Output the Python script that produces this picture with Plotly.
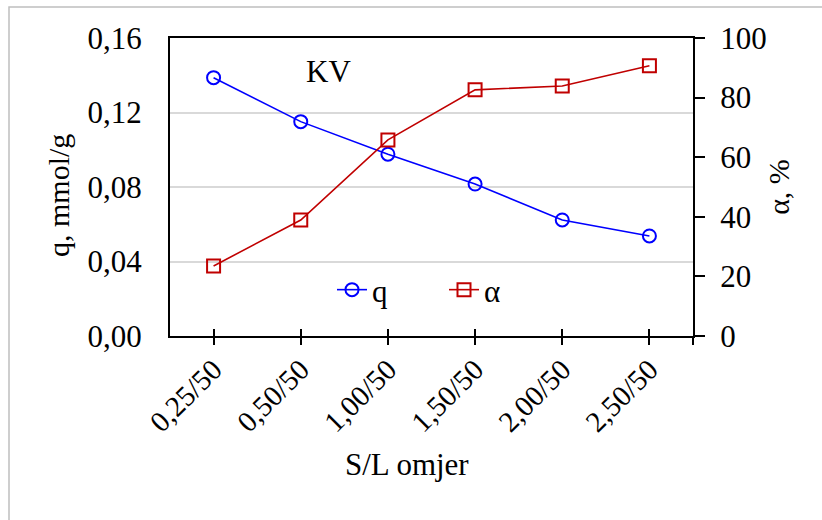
import plotly.graph_objects as go

categories = ["0,25/50", "0,50/50", "1,00/50", "1,50/50", "2,00/50", "2,50/50"]
q_values = [0.1387, 0.1151, 0.0976, 0.0816, 0.0623, 0.0537]
alpha_values = [23.5, 38.9, 65.8, 82.6, 83.9, 90.7]
q_ticks = [0, 0.04, 0.08, 0.12, 0.16]
alpha_ticks = [0, 20, 40, 60, 80, 100]

FONT = "'Liberation Serif', 'Times New Roman', serif"
W, H = 822, 520
L, R, T, B = 170, 129, 38, 184
pw, ph = W - L - R, H - T - B


def px_x(p):
    return (p - L) / pw


def px_y(p):
    return (T + ph - p) / ph


x = list(range(len(categories)))
tickvals = x + [len(categories) - 0.5]
ticktext = categories + [""]

fig = go.Figure()
fig.add_trace(go.Scatter(
    x=x, y=q_values, name="q", mode="lines+markers",
    line=dict(color="#0000FF", width=1.6),
    marker=dict(symbol="circle-open", size=13, color="#0000FF", line=dict(width=2)),
    yaxis="y", xaxis="x"))
fig.add_trace(go.Scatter(
    x=x, y=alpha_values, name="α", mode="lines+markers",
    line=dict(color="#C00000", width=1.6),
    marker=dict(symbol="square-open", size=13, color="#C00000", line=dict(width=2)),
    yaxis="y2", xaxis="x"))
# helper trace to display inner half of crossing ticks
fig.add_trace(go.Scatter(
    x=x, y=q_values, mode="markers", marker=dict(opacity=0),
    showlegend=False, hoverinfo="skip", xaxis="x3", yaxis="y"))

xrange = [-0.5, len(categories) - 0.5]
fig.update_layout(
    width=W, height=H,
    margin=dict(l=L, r=R, t=T, b=B, autoexpand=False),
    paper_bgcolor="white", plot_bgcolor="white",
    separators=", ",
    font=dict(family=FONT, size=31, color="black"),
    xaxis=dict(
        range=xrange, tickmode="array", tickvals=tickvals, ticktext=ticktext,
        tickangle=-45, ticks="outside", ticklen=7, tickwidth=1.5, tickcolor="black",
        showline=True, linecolor="black", linewidth=2, mirror=True,
        showgrid=False, zeroline=False, automargin=False,
        tickfont=dict(size=29, family=FONT), ticklabelstandoff=-4,
    ),
    xaxis3=dict(
        range=xrange, overlaying="x", tickmode="array", tickvals=tickvals,
        ticks="inside", ticklen=7, tickwidth=1.5, tickcolor="black",
        showticklabels=False, showline=False, showgrid=False, zeroline=False,
        automargin=False,
    ),
    yaxis=dict(
        range=[0, 0.16], tickmode="array", tickvals=q_ticks, tickformat=".2f",
        ticks="", showline=True, linecolor="black", linewidth=2,
        showgrid=True, gridcolor="#d9d9d9", gridwidth=2, zeroline=False,
        automargin=False,
        tickfont=dict(size=31, family=FONT), ticklabelstandoff=20,
    ),
    yaxis2=dict(
        range=[0, 100], tickmode="array", tickvals=alpha_ticks,
        overlaying="y", side="right", anchor="x",
        ticks="outside", ticklen=10, tickwidth=1.5, tickcolor="black",
        showline=True, linecolor="black", linewidth=2,
        showgrid=False, zeroline=False, automargin=False,
        tickfont=dict(size=31, family=FONT), ticklabelstandoff=9,
        title=dict(text="α, %", font=dict(size=30, family=FONT), standoff=2),
    ),
    legend=dict(
        orientation="h", x=px_x(332), y=px_y(290),
        xanchor="left", yanchor="middle", bgcolor="rgba(0,0,0,0)",
        font=dict(size=31, family=FONT), entrywidth=67, entrywidthmode="pixels",
    ),
    showlegend=True,
)

fig.add_annotation(
    text="KV", xref="paper", yref="paper", x=px_x(328), y=px_y(72),
    xanchor="center", yanchor="middle",
    showarrow=False, font=dict(size=31, family=FONT),
)
# x-axis title
fig.add_annotation(
    text="S/L omjer", xref="paper", yref="paper", x=px_x(407), y=px_y(465),
    xanchor="center", yanchor="middle",
    showarrow=False, font=dict(size=31, family=FONT),
)
# left y-axis title
fig.add_annotation(
    text="q, mmol/g", xref="paper", yref="paper", x=px_x(58), y=px_y(196),
    xanchor="center", yanchor="middle", textangle=-90,
    showarrow=False, font=dict(size=30, family=FONT),
)

# outer light-gray border (cropped on right and bottom in the reference)
fig.add_shape(
    type="rect", xref="paper", yref="paper",
    x0=px_x(9), x1=px_x(W + 20), y0=px_y(H + 20), y1=px_y(7),
    line=dict(color="#bfbfbf", width=1.5), layer="below",
)

fig.write_html("out.html", config={"displayModeBar": False},
               post_script="document.body.style.margin='0';")
